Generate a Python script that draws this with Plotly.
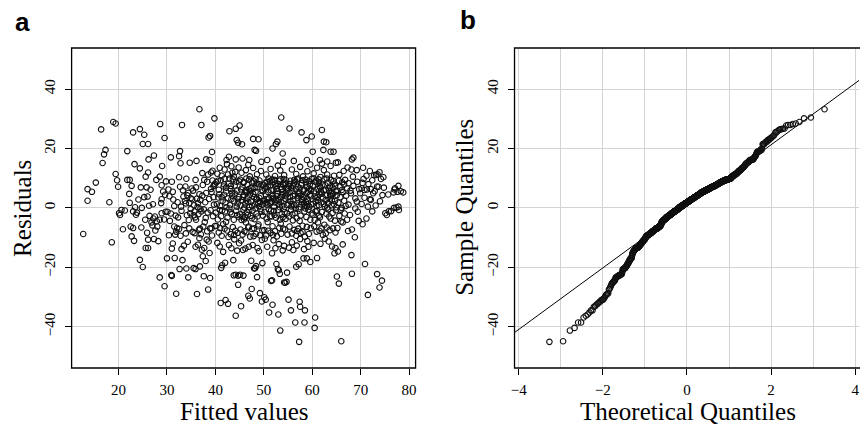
import plotly.graph_objects as go
import numpy as np
from statistics import NormalDist

# ---------------- data: (fitted value, residual), by fitted-value strip
strip_12_20 = [(12.7,-8.8),(13.6,2.4),(13.6,6.3),(14.5,5.4),(15.3,8.5),(16.4,26.4),(16.7,15.1),(17.0,18.0),
               (17.3,19.5),(18.1,1.9),(18.6,-11.6),(18.9,28.9),(19.4,28.4),(19.4,11.4),(19.7,9.3),(19.9,7.1)]

strip_20_25 = [(20.1,-1.8),(20.3,-2.4),(20.6,-0.7),(20.9,-7.2),(21.8,19.1),(21.8,9.4),(22.3,9.4),(22.7,7.4),
               (22.2,4.7),(22.3,1.7),(22.5,-6.3),(22.7,-9.6),(23.0,-6.8),(23.2,-11.1),(23.0,-1.2),(23.4,0.2),
               (23.3,14.7),(23.8,-1.6),(24.4,26.5),(24.4,13.3),(24.8,0.0),(24.6,6.9),(24.4,-17.5),(25.0,-19.9),
               (24.1,2.8),(24.7,-6.6),(21.3,-0.9),(23.6,-2.3),(23.0,25.4)]

strip_25_30 = [(25.3,24.6),(25.0,21.5),(26.1,21.5),(25.3,3.6),(25.6,10.5),(25.8,6.9),(26.2,16.3),(26.1,11.9),
               (26.0,3.8),(26.3,0.7),(26.4,-2.7),(25.5,-4.0),(27.0,-5.9),(25.6,-13.5),(26.1,-10.7),(26.1,-13.5),
               (27.3,17.6),(27.3,-10.5),(28.2,-11.2),(28.6,28.2),(29.5,23.5),(29.0,14.1),(28.5,10.5),(28.9,7.6),
               (29.2,5.5),(28.9,2.9),(28.8,1.6),(28.5,-4.0),(28.9,-1.8),(27.6,-7.6),(28.5,-23.4),(29.5,-26.4),
               (27.8,9.4),(27.5,-2.9),(28.0,-6.3),(26.8,-4.9),(27.2,-3.6),(27.9,-4.5),(29.4,-3.9),(29.7,-1.3),
               (26.6,6.1),(29.8,8.9),(27.1,1.2),(29.6,4.4),(25.9,-8.4)]

strip_30_35 = [(30.0,-17.0),(30.1,-1.3),(30.3,6.2),(30.8,17.0),(30.8,-1.9),(30.9,-22.6),(31.0,-22.9),(31.0,8.8),
               (31.0,-13.7),(31.2,5.4),(31.2,-12.0),(31.5,-6.3),(31.9,-8.0),(31.9,-28.9),(31.6,-16.9),(31.3,2.8),
               (31.5,0.6),(31.8,-2.6),(30.5,3.9),(30.6,-4.4),(32.5,10.3),(32.7,19.1),(32.5,17.4),(32.8,15.0),
               (32.7,7.1),(33.1,27.9),(33.4,3.8),(32.9,0.4),(32.6,-20.6),(33.2,-17.6),(32.3,-3.2),(32.5,-7.1),
               (32.8,-9.4),(33.0,-1.0),(33.3,5.9),(33.6,-5.8),(33.9,1.5),(33.9,-8.6),(33.8,7.2),(34.0,9.8),
               (34.7,15.2),(34.5,-4.1),(34.6,-6.9),(34.2,4.2),(34.4,-23.4),(34.0,-20.4),(34.9,3.2),(34.3,-11.4),
               (34.6,1.6),(34.8,-1.8),(33.5,-12.7),(34.1,-2.5),(33.7,2.3),(32.1,-6.8),(32.2,1.9),(34.9,-0.4),
               (33.0,-13.9),(31.7,-9.0),(34.4,5.0),(30.4,-9.2)]

strip_35_40 = [(35.5,-20.3),(35.9,-20.6),(36.2,-29.0),(36.8,-19.7),(36.7,33.2),(37.1,27.9),(38.5,-27.5),(38.9,-23.6),
               (38.6,23.7),(38.9,24.2),(39.8,30.1),(35.9,9.4),(37.2,-14.1),(37.7,-13.5),(37.4,-16.3),(38.2,-10.7),
               (38.6,-11.3),(38.8,-15.2),(39.4,12.5),(39.1,11.9),(39.3,18.8),(38.8,16.1),(38.1,16.3),(37.7,9.4),
               (37.4,7.7),(38.3,8.8),(36.7,4.6),(36.4,1.6),(37.1,-1.2),(35.7,-1.2),(35.2,2.9),(36.0,-4.0),
               (36.8,-7.0),(37.5,-6.3),(35.7,-8.5),(36.4,-12.4),(36.7,-10.2),(36.1,15.8),(35.4,5.8),(35.8,-3.2),
               (36.3,0.3),(36.5,-2.1),(36.9,2.7),(37.3,4.1),(37.6,-0.5),(37.9,1.9),(38.0,-3.4),(38.4,-1.6),
               (38.7,3.0),(39.0,-0.8),(39.2,5.3),(39.5,-2.8),(39.7,1.1),(39.9,-6.1),(35.3,-8.1),(35.6,0.9),
               (36.0,6.9),(36.6,-7.4),(37.0,-8.9),(37.8,-4.8),(38.3,-7.9),(38.9,-6.9),(39.3,-9.3),(39.6,7.3),
               (39.8,7.6),(39.4,9.2),(38.5,11.2),(37.3,11.7),(35.9,-13.1),(36.2,3.1),(38.0,-17.9),(39.1,6.4),
               (39.9,8.1),(37.6,-23.0),(35.1,6.5),(39.6,3.6),(38.1,5.0),(36.9,-0.3),(35.5,-2.5),(39.2,-6.9)]

strip_40_45 = [(41.1,-32.0),(42.1,-31.0),(42.6,-32.3),(44.2,-36.3),(44.7,-25.9),(43.8,-22.7),(44.2,-22.5),(44.7,-22.8),
               (41.2,-20.2),(44.2,26.6),(44.4,22.8),(44.7,21.9),(42.8,17.2),(42.3,16.1),(44.2,16.3),
               (41.4,-19.3),(42.0,-18.5),(41.8,7.9),(43.7,-17.6),(44.0,4.8),(42.2,6.8),(41.6,-14.8),(42.8,-12.5),
               (43.3,-13.6),(40.4,-11.8),(40.9,-13.0),(44.5,-14.4),(44.9,-11.9),(43.9,-10.6),
               (40.2,-6.1),(40.7,-8.3),(41.3,-9.4),(41.9,-7.0),(42.4,-7.6),(43.2,-8.9),(43.6,-6.5),(44.1,-7.7),
               (44.6,-8.4),(42.7,-9.8),(41.0,-6.8),(43.9,-9.1),
               (40.1,-1.6),(40.5,-3.9),(40.9,-0.7),(41.2,-2.8),(41.6,-5.5),(42.0,-1.2),(42.5,-3.3),(42.9,-0.2),
               (43.4,-2.1),(43.8,-4.0),(44.3,-1.0),(44.8,-3.0),(41.4,-0.9),(42.2,-4.7),(43.1,-1.5),(44.5,-2.4),
               (40.3,1.2),(40.6,3.5),(41.0,0.6),(41.5,2.4),(41.8,4.4),(42.1,1.8),(42.6,3.2),(43.0,0.9),(43.5,4.1),
               (43.9,2.2),(44.4,0.4),(44.9,3.7),(40.8,4.6),(42.3,0.2),(43.3,2.9),(44.6,1.5),(41.3,3.6),
               (40.2,8.6),(40.7,6.1),(41.1,9.3),(41.7,7.2),(42.2,5.5),(42.7,8.1),(43.1,6.4),(43.6,9.6),(44.0,7.5),
               (44.5,5.8),(44.9,8.9),(41.9,9.8),(43.4,5.1),(40.5,9.1),(42.9,9.9),
               (40.4,11.5),(41.3,10.8),(41.9,12.9),(42.6,11.2),(43.3,14.0),(44.1,12.1),(44.8,13.6),(40.9,13.5),
               (43.8,10.5),(42.4,14.7),(43.5,11.8),
               (42.9,25.8),(43.2,7.4),(44.3,8.8),(44.7,2.9)]

strip_45_50 = [(45.3,-33.1),(47.1,-30.5),(49.6,-31.5),(46.8,-29.6),(47.5,-27.3),(49.2,-28.7),(45.1,-22.5),(45.8,-22.8),
               (48.6,-23.3),(48.2,-20.3),(48.0,-20.4),(48.4,-19.6),(49.7,-18.6),(45.0,27.7),(45.5,21.4),(47.8,23.2),
               (48.9,23.1),(48.1,19.5),(48.4,19.2),(47.0,16.1),(49.5,15.5),(45.6,16.6),
               (46.3,5.9),(47.4,-17.8),(49.1,3.3),(45.9,8.7),
               (45.7,-14.2),(46.2,-13.7),(46.9,-13.1),(47.7,-12.5),(48.3,9.6),(49.0,-14.6),(49.6,-10.8),(45.3,-11.0),
               (48.7,-13.5),(46.5,5.3),
               (45.2,-7.3),(45.6,-9.0),(46.0,-7.9),(46.4,-8.2),(46.8,-6.6),(47.2,-9.7),(47.6,-7.1),(48.0,-6.9),
               (48.4,-8.8),(48.8,-6.2),(49.2,-9.2),(49.7,-7.6),(47.9,-9.5),(45.9,-3.9),
               (45.1,-2.2),(45.4,-4.1),(45.8,-0.6),(46.1,-3.2),(46.5,-1.5),(46.9,-6.3),(47.3,-2.7),(47.7,-0.9),
               (48.1,-3.8),(48.5,-1.9),(48.9,-5.6),(49.3,-0.4),(49.8,-2.6),(46.3,-4.9),(47.5,-3.5),(48.3,-0.2),
               (49.5,-1.3),(45.6,-3.0),(47.0,-0.8),(48.7,-2.9),
               (45.2,0.8),(45.5,2.6),(45.9,4.3),(46.2,1.5),(46.6,3.4),(47.0,0.3),(47.4,2.1),(47.8,4.7),(48.2,1.2),
               (48.6,3.0),(49.0,0.6),(49.4,4.0),(49.9,2.3),(46.0,0.1),(47.1,4.4),(48.4,2.8),(49.7,1.1),(45.7,3.7),
               (46.8,1.9),(48.0,3.6),(49.2,2.0),(47.6,0.7),
               (45.3,6.2),(45.8,8.4),(46.1,5.5),(46.6,7.7),(47.0,9.6),(47.4,6.8),(47.9,8.9),(48.3,5.3),(48.7,7.1),
               (49.1,9.2),(49.6,6.0),(46.4,9.9),(48.5,8.2),(49.9,7.8),(45.6,7.0),(47.2,5.6),
               (45.4,11.8),(46.3,12.7),(47.1,10.6),(47.8,13.4),(48.6,11.3),(49.4,12.4),(46.8,14.5),
               (46.7,-2.4),(46.4,2.4),(48.8,1.7),(45.1,9.5),(46.9,6.3),(47.6,8.5),(48.1,6.7),(49.0,8.0),(49.8,5.6)]

strip_50_55 = [(53.4,-41.3),(51.1,-35.2),(53.0,-35.9),(50.1,-30.1),(50.4,-30.9),(51.8,-32.6),(54.2,-25.1),(54.4,-25.2),
               (51.5,-24.6),(51.7,-24.4),(52.9,-20.6),(53.3,-22.2),(54.8,-21.8),(54.7,-24.9),(53.1,-21.0),(53.6,30.4),
               (52.5,21.5),(52.8,22.3),(51.8,20.0),(53.9,18.3),(50.7,16.1),(54.0,15.5),
               (50.3,8.3),(51.7,-15.3),(52.6,-18.9),(53.8,4.4),(54.5,7.9),
               (50.7,-13.1),(52.4,-13.6),(51.2,8.9),(53.1,-12.2),(53.9,-14.3),(54.6,9.3),(50.2,-10.4),(52.0,-10.9),
               (54.2,-12.8),
               (50.1,-7.5),(50.5,-9.3),(50.9,-7.7),(51.4,-8.4),(51.9,-9.1),(52.3,-7.9),(52.7,-9.6),(53.2,-6.7),
               (53.6,-8.7),(54.0,-7.0),(54.4,-7.3),(54.9,-9.0),(51.6,-2.9),
               (50.2,-1.4),(50.6,-3.6),(51.0,-0.5),(51.3,-2.8),(51.8,-6.2),(52.1,-1.1),(52.5,-3.3),(52.9,-0.7),
               (53.3,-4.0),(53.7,-2.1),(54.1,-0.3),(54.5,-3.7),(54.8,-1.8),(50.8,-4.8),(52.2,-2.4),(53.5,-5.3),
               (54.3,-1.4),(51.5,-0.9),
               (50.1,2.4),(50.4,4.5),(50.8,0.9),(51.1,3.2),(51.4,1.6),(51.8,4.0),(52.1,0.4),(52.4,2.7),(52.8,4.8),
               (53.1,1.3),(53.5,3.5),(53.8,0.7),(54.2,2.2),(54.6,4.2),(54.9,1.0),(50.6,3.0),(51.6,2.1),(52.6,3.9),
               (53.3,0.2),(54.4,3.1),(50.3,1.5),(51.9,3.4),(53.0,2.6),(54.0,4.6),(52.3,1.8),
               (50.2,6.4),(50.6,8.8),(50.9,5.3),(51.3,7.6),(51.7,9.5),(52.0,6.1),(52.4,8.2),(52.8,5.7),(53.2,9.1),
               (53.5,7.0),(53.9,5.4),(54.3,8.5),(54.7,6.6),(51.0,9.9),(52.6,7.3),(54.1,9.7),(50.4,7.1),(51.5,5.9),
               (53.0,8.0),(54.5,5.2),(52.2,9.4),(53.7,6.3),
               (50.5,11.2),(51.4,13.1),(52.3,10.7),(53.4,12.6),(54.2,11.0),(52.9,14.2),
               (53.9,-3.2),(50.7,1.9),(52.0,3.0),(53.6,2.0),(50.8,7.2),(51.8,8.6),(52.7,6.4),(53.4,9.6),(54.0,7.7)]

strip_55_60 = [(57.3,-45.1),(56.5,-38.6),(58.4,-38.6),(55.1,-30.9),(55.6,-34.5),(57.4,-31.6),(57.5,-33.3),(58.5,-34.5),
               (56.7,-19.8),(57.2,-19.0),(58.2,-17.0),(58.9,-17.0),(55.3,26.7),(58.8,22.8),(59.9,24.0),(58.9,16.1),
               (56.2,15.8),
               (55.4,8.0),(57.9,3.0),(59.6,-18.2),
               (56.1,-14.2),(59.2,-13.1),(55.8,-11.6),(56.8,-12.7),(57.5,-10.5),(58.3,-13.9),(59.0,-11.2),(55.2,-13.4),
               (59.8,5.8),
               (55.3,-6.3),(55.8,-8.6),(56.3,-7.4),(56.7,-9.4),(57.1,-7.0),(57.6,-8.5),(58.0,-8.1),(58.5,-9.7),
               (58.9,-6.4),(59.3,-8.8),(59.7,-6.8),(56.9,-7.8),
               (55.2,-2.9),(55.6,-0.8),(56.0,-4.2),(56.4,-1.7),(56.8,-3.5),(57.2,-0.4),(57.6,-2.6),(58.0,-6.0),
               (58.4,-1.2),(58.8,-3.1),(59.2,-0.6),(59.6,-4.0),(55.9,-2.2),(57.4,-4.4),(58.6,-0.2),(59.9,-1.9),
               (56.6,-0.3),
               (55.1,1.4),(55.4,3.7),(55.7,0.5),(56.1,2.8),(56.4,4.6),(56.7,1.1),(57.0,3.3),(57.3,0.2),(57.6,4.1),
               (57.9,1.9),(58.2,3.6),(58.5,0.8),(58.8,4.9),(59.1,2.4),(59.4,0.4),(59.7,3.9),(55.5,2.2),(56.3,0.9),
               (57.1,4.8),(57.8,2.7),(58.3,1.5),(59.0,3.1),(59.8,1.2),(56.0,4.0),(58.7,2.0),(59.5,4.4),
               (55.2,7.3),(55.5,9.1),(55.9,5.6),(56.2,8.2),(56.6,6.4),(56.9,9.6),(57.3,5.2),(57.7,7.7),(58.0,9.3),
               (58.4,6.1),(58.7,8.6),(59.1,5.4),(59.5,7.9),(59.9,9.8),(55.7,6.8),(56.5,8.9),(57.4,6.6),(58.2,5.8),
               (59.3,9.0),(56.0,7.5),(57.9,8.3),(58.9,7.0),(55.3,5.1),(57.1,9.9),(59.7,6.2),
               (55.8,12.9),(56.7,11.4),(57.5,13.8),(58.1,10.6),(59.0,12.3),(59.6,14.6),
               (57.8,25.4),(55.9,1.3),(57.2,3.9),(58.9,0.6),(55.0,6.2),(56.3,9.4),(57.0,7.1),(58.6,9.5),(59.4,6.5)]

strip_60_65 = [(60.5,-40.4),(60.6,-36.9),(61.0,-16.9),(62.4,22.3),(62.9,22.1),(62.3,19.5),(64.4,18.9),(63.8,18.9),
               (64.6,-15.3),
               (63.4,-11.3),(64.1,-13.0),(64.8,-13.5),(61.7,-12.1),(62.6,-10.4),(60.3,-11.8),
               (63.0,-6.6),(64.8,-8.3),(60.9,-8.0),(61.5,-7.7),(62.2,-9.1),(63.6,-7.5),(64.3,-6.9),(60.4,-6.2),
               (62.8,-8.6),(61.9,-6.9),
               (60.1,-2.3),(60.5,-4.1),(61.2,-4.9),(61.0,-0.9),(61.6,-3.2),(62.0,-1.4),(62.5,-5.7),(62.9,-2.0),
               (63.3,-0.5),(63.8,-3.6),(64.2,-1.7),(64.7,-4.3),(60.7,-1.2),(63.5,-2.9),(64.9,-0.8),
               (60.2,1.3),(60.5,3.8),(60.9,0.6),(61.2,2.6),(61.5,4.5),(61.9,1.8),(62.2,3.4),(62.6,0.4),(62.9,4.2),
               (63.3,1.6),(63.6,3.0),(64.0,0.9),(64.3,4.7),(64.7,2.3),(65.0,0.2),(60.7,2.1),(61.4,0.9),(62.0,4.8),
               (62.8,2.7),(63.9,3.9),(64.5,1.2),(61.1,3.7),(63.1,0.1),(64.1,2.5),
               (60.1,7.4),(60.4,5.6),(60.8,9.2),(61.1,6.3),(61.4,8.5),(61.8,5.4),(62.1,7.8),(62.5,9.7),(62.8,6.1),
               (63.2,8.4),(63.5,5.7),(63.9,9.4),(64.2,6.9),(64.6,8.1),(64.9,5.5),(60.6,8.8),(61.6,6.9),(62.4,5.9),
               (63.0,9.9),(63.7,7.2),(64.4,9.0),(61.3,9.6),(62.7,7.6),(64.0,5.2),
               (60.3,11.6),(61.0,13.5),(61.7,10.4),(62.4,12.7),(63.1,11.2),(63.8,14.1),(64.5,10.8),(62.0,14.9),
               (61.6,16.1),(60.1,18.9),(63.1,15.6),(64.9,15.2),
               (62.0,26.2),(61.4,-2.6),(60.9,3.3),(62.4,1.4),(63.7,4.4),(60.3,9.9),(61.5,7.3),(63.4,6.6),(64.7,7.5)]

strip_65_70 = [(66.0,-44.9),(65.5,-25.5),(65.1,-23.1),(68.2,-22.2),(68.1,-15.9),(65.3,-14.7),(68.8,-9.9),(66.3,-12.3),
               (65.2,-6.8),(66.0,-4.6),(66.3,-4.9),(67.2,-4.0),(68.2,-7.3),(69.4,-1.3),(68.9,-0.2),(66.7,-1.9),
               (65.6,-2.7),(67.8,-2.4),(69.6,-4.4),(65.9,-0.6),(67.4,-7.8),
               (65.4,1.7),(65.8,3.6),(66.1,0.0),(66.6,2.4),(67.0,4.1),(67.5,1.1),(68.0,4.9),(68.9,3.2),(69.9,4.9),
               (66.9,0.6),(69.2,2.1),(65.1,4.3),
               (65.8,7.2),(66.1,6.0),(66.8,9.4),(67.5,8.3),(66.4,5.3),(67.2,6.6),(68.5,7.4),(69.3,8.8),(65.5,9.1),
               (66.6,7.9),(67.9,5.8),(69.7,6.3),(65.2,5.6),
               (68.1,12.9),(69.2,12.7),(68.4,10.5),(66.5,12.4),(65.6,11.1),(67.3,13.6),
               (68.2,16.3),(68.5,16.9),(65.3,15.3),(66.2,8.6)]

strip_70_75 = [(70.9,-18.9),(71.5,-29.3),(73.4,-22.3),(74.4,-24.5),(73.9,-26.8),(70.4,-5.5),(71.2,-3.6),(72.4,-1.2),
               (70.2,1.3),(71.9,2.9),(72.1,2.7),(72.6,4.9),(74.5,4.3),(73.1,0.8),(70.8,3.4),(74.0,2.2),(71.5,0.4),
               (70.2,6.6),(70.8,6.0),(71.3,6.2),(73.7,7.1),(72.1,6.3),(73.4,7.2),(70.6,9.7),(74.2,9.7),(71.6,8.0),
               (72.9,5.6),(74.8,6.8),(70.4,8.4),(72.4,9.3),
               (70.5,13.5),(71.9,12.4),(72.8,11.0),(73.5,11.3),(73.9,12.0),(73.2,11.1),(71.2,10.8),(74.7,10.3)]

strip_75_80 = [(75.1,-1.8),(75.4,-2.4),(75.8,-1.2),(76.3,-1.1),(76.9,0.0),(77.4,0.1),(77.8,0.4),(77.9,-0.7),
               (76.8,5.2),(77.1,6.6),(77.8,7.4),(77.6,5.4),(78.3,5.6),(78.8,5.2),(77.0,6.2),(75.7,4.5)]

# tick labels
x_ticks_a = [20, 30, 40, 50, 60, 70, 80]
y_ticks = [-40, -20, 0, 20, 40]
y_tick_text = ["\u221240", "\u221220", "0", "20", "40"]
x_ticks_b = [-4, -2, 0, 2, 4]
x_tick_text_b = ["\u22124", "\u22122", "0", "2", "4"]
x_grid_minor_b = [-3, -1, 1, 3]

# ---------------- derived series (normal Q-Q plot of the residuals, as R's qqnorm/qqline)
strips = [strip_12_20, strip_20_25, strip_25_30, strip_30_35, strip_35_40, strip_40_45,
          strip_45_50, strip_50_55, strip_55_60, strip_60_65, strip_65_70, strip_70_75, strip_75_80]
fitted = [p[0] for s in strips for p in s]
residuals = [p[1] for s in strips for p in s]

n = len(residuals)
nd = NormalDist()
sample_q = sorted(residuals)
theo_q = [nd.inv_cdf((i + 0.5) / n) for i in range(n)]
q1, q3 = np.quantile(residuals, [0.25, 0.75])
z1, z3 = nd.inv_cdf(0.25), nd.inv_cdf(0.75)
slope = (q3 - q1) / (z3 - z1)
intercept = q1 - slope * z1

xa_range = [10.3, 81.35]
y_range = [-53.9, 53.8]
xb_range = [-4.1, 4.09]
line_x = [xb_range[0] - 0.05, xb_range[1] + 0.05]
line_y = [intercept + slope * v for v in line_x]

W, H = 860, 431
xa_dom = [68 / W, 414 / W]
xb_dom = [513.5 / W, 1.0]
y_dom = [(H - 368) / H, (H - 48) / H]

SERIF = "Liberation Serif"
GRID = "#d3d3d3"
marker = dict(symbol="circle-open", size=5.5, color="#111111", line=dict(width=1.1, color="#111111"))

fig = go.Figure()
fig.add_trace(go.Scatter(x=fitted, y=residuals, mode="markers", marker=marker,
                         xaxis="x", yaxis="y", showlegend=False))
fig.add_trace(go.Scatter(x=line_x, y=line_y, mode="lines", line=dict(color="black", width=1),
                         xaxis="x2", yaxis="y2", showlegend=False))
fig.add_trace(go.Scatter(x=theo_q, y=sample_q, mode="markers", marker=marker,
                         xaxis="x2", yaxis="y2", showlegend=False))

axis_common = dict(showline=False, zeroline=False, ticks="outside", ticklen=6, tickwidth=1,
                   tickcolor="black", showgrid=True, gridcolor=GRID, gridwidth=1.3,
                   tickfont=dict(family=SERIF, size=15, color="black"))

fig.update_layout(
    width=W, height=H, margin=dict(l=0, r=0, t=0, b=0), autosize=False,
    paper_bgcolor="white", plot_bgcolor="white",
    xaxis=dict(domain=xa_dom, range=xa_range, tickvals=x_ticks_a, anchor="y",
               ticklabelstandoff=2, **axis_common),
    yaxis=dict(domain=y_dom, range=y_range, tickvals=y_ticks, ticktext=y_tick_text, anchor="x",
               tickangle=-90, ticklabelstandoff=4, **axis_common),
    xaxis2=dict(domain=xb_dom, range=xb_range, tickvals=x_ticks_b, ticktext=x_tick_text_b, anchor="y2",
                ticklabelstandoff=2,
                minor=dict(tickvals=x_grid_minor_b, showgrid=True, gridcolor=GRID, gridwidth=1.3, ticks=""),
                **axis_common),
    yaxis2=dict(domain=y_dom, range=y_range, tickvals=y_ticks, ticktext=y_tick_text, anchor="x2",
                tickangle=-90, ticklabelstandoff=4, **axis_common),
    shapes=[
        dict(type="rect", xref="x domain", yref="y domain", x0=0, x1=1, y0=0, y1=1,
             line=dict(color="black", width=1.3), layer="above"),
        dict(type="rect", xref="x2 domain", yref="y2 domain", x0=0, x1=1.01, y0=0, y1=1,
             line=dict(color="black", width=1.3), layer="above"),
    ],
    annotations=[
        dict(text="Fitted values", x=241 / W, y=(H - 411) / H, xref="paper", yref="paper",
             showarrow=False, xanchor="center", yanchor="middle", font=dict(family=SERIF, size=25, color="black")),
        dict(text="Theoretical Quantiles", x=687.5 / W, y=(H - 411) / H, xref="paper", yref="paper",
             showarrow=False, xanchor="center", yanchor="middle", font=dict(family=SERIF, size=25, color="black")),
        dict(text="Residuals", x=18 / W, y=(H - 208) / H, xref="paper", yref="paper", textangle=-90,
             showarrow=False, xanchor="center", yanchor="middle", font=dict(family=SERIF, size=25, color="black")),
        dict(text="Sample Quantiles", x=463 / W, y=(H - 207.5) / H, xref="paper", yref="paper", textangle=-90,
             showarrow=False, xanchor="center", yanchor="middle", font=dict(family=SERIF, size=25, color="black")),
        dict(text="<b>a</b>", x=18.5 / W, y=(H - 22) / H, xref="paper", yref="paper",
             showarrow=False, xanchor="center", yanchor="middle", font=dict(family="Liberation Sans", size=26, color="black")),
        dict(text="<b>b</b>", x=466.5 / W, y=(H - 20) / H, xref="paper", yref="paper",
             showarrow=False, xanchor="center", yanchor="middle", font=dict(family="Liberation Sans", size=26, color="black")),
    ],
)

fig.write_html("out.html")
